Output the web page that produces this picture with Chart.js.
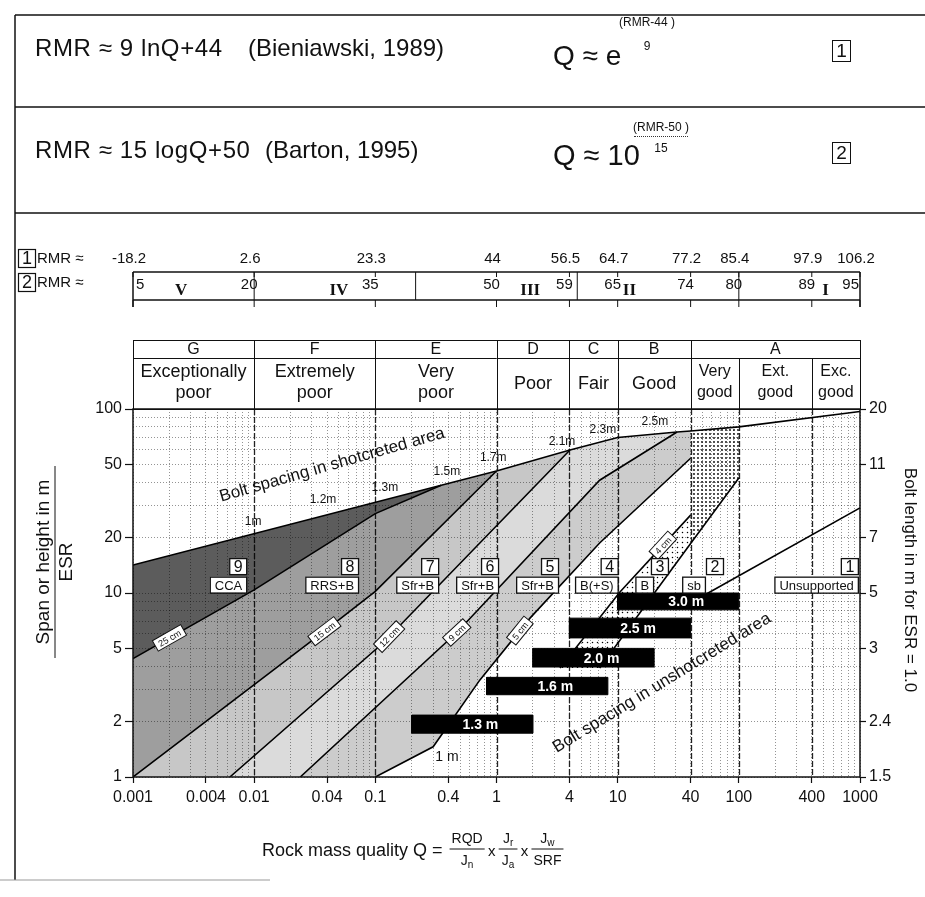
<!DOCTYPE html>
<html>
<head>
<meta charset="utf-8">
<script src="https://cdn.jsdelivr.net/npm/chart.js@4.4.1/dist/chart.umd.min.js"></script>
<style>
  html, body { margin: 0; padding: 0; background: #fff; }
  #wrap { position: relative; width: 925px; height: 897px; overflow: hidden;
          font-family: "Liberation Sans", Arial, sans-serif; color: #111; }
  #chart { position: absolute; left: 0; top: 0; }
  .t { position: absolute; white-space: nowrap; line-height: 1; }
  .small { font-size: 12px; text-align: center; width: 70px; }
  .box { position: absolute; border: 1.5px solid #111; width: 17px; height: 20px;
         font-size: 19px; line-height: 20px; text-align: center; }
</style>
</head>
<body>
<div id="wrap">
  <canvas id="chart" width="925" height="897"></canvas>

  <div class="t" style="left:35px;top:36px;font-size:24px;letter-spacing:0.6px">RMR ≈ 9 lnQ+44</div>
  <div class="t" style="left:248px;top:36px;font-size:24px">(Bieniawski, 1989)</div>
  <div class="t" style="left:553px;top:42px;font-size:28px">Q ≈ e</div>
  <div class="t small" style="left:612px;top:16px">(RMR-44 )</div>
  <div class="t small" style="left:612px;top:40px">9</div>
  <div class="box" style="left:832px;top:40px">1</div>

  <div class="t" style="left:35px;top:138px;font-size:24px;letter-spacing:0.6px">RMR ≈ 15 logQ+50</div>
  <div class="t" style="left:265px;top:138px;font-size:24px">(Barton, 1995)</div>
  <div class="t" style="left:553px;top:141px;font-size:29px">Q ≈ 10</div>
  <div class="t small" style="left:626px;top:121px">(RMR-50 )</div>
  <div class="t" style="left:634px;top:136px;width:54px;border-top:1px dotted #333"></div>
  <div class="t small" style="left:626px;top:142px">15</div>
  <div class="box" style="left:832px;top:142px">2</div>
</div>

<script>
// axis ticks
const qTickValues = [0.001, 0.004, 0.01, 0.04, 0.1, 0.4, 1, 4, 10, 40, 100, 400, 1000];
const qTickLabels = ['0.001', '0.004', '0.01', '0.04', '0.1', '0.4', '1', '4', '10', '40', '100', '400', '1000'];
const spanTickValues = [1, 2, 5, 10, 20, 50, 100];
const spanTickLabels = ['1', '2', '5', '10', '20', '50', '100'];
const boltLengthLabels = ['1.5', '2.4', '3', '5', '7', '11', '20'];

// rock mass classes (Q)
const qClassBounds = [0.001, 0.01, 0.1, 1, 4, 10, 40, 1000];
const qClassLetters = ['G', 'F', 'E', 'D', 'C', 'B', 'A'];
const qNameBounds = [0.001, 0.01, 0.1, 1, 4, 10, 40, 100, 400, 1000];
const qNames = ['Exceptionally\npoor', 'Extremely\npoor', 'Very\npoor', 'Poor', 'Fair', 'Good',
                'Very\ngood', 'Ext.\ngood', 'Exc.\ngood'];

// RMR correlations
const rmrQ = [0.001, 0.01, 0.1, 1, 4, 10, 40, 100, 400, 1000];
const rmrBieniawski = ['-18.2', '2.6', '23.3', '44', '56.5', '64.7', '77.2', '85.4', '97.9', '106.2'];
const rmrBarton = ['5', '20', '35', '50', '59', '65', '74', '80', '89', '95'];
const rmrClassNames = ['V', 'IV', 'III', 'II', 'I'];
const rmrClassBoundQ = [0.01, 0.215, 4.64, 100];   // RMR 20 / 40 / 60 / 80

// support lines, [Q, span/ESR]
const lineShotcrete = [[0.001, 14.2], [0.35, 38.5], [1, 46], [4.04, 59.9], [10, 70], [30.9, 75], [40, 76], [100, 80], [1000, 97]];
const line25cm = [[0.001, 4.4], [0.01, 10.4], [0.1, 27], [0.35, 38.5]];
const line15cm = [[0.001, 1], [0.038, 6.2], [0.1, 10.2], [1, 46]];
const line12cm = [[0.0063, 1], [0.114, 5.3], [4.04, 59.9]];
const line9cm = [[0.024, 1], [0.47, 6.1], [7.1, 41], [30.9, 75]];
const line5cm = [[0.1, 1], [0.3, 1.46], [0.73, 3.37], [1.89, 7.3], [7.1, 18.7], [40, 54]];
const line4cm = [[3.34, 3.91], [10.4, 10.1], [40, 26.5]];
const lineBolts = [[7.1, 3.91], [20.3, 10.1], [40, 18.6], [100, 42.2]];
const lineUnsupported = [[50, 9.6], [1000, 29]];

// bolt spacing in unshotcreted area
const boltSpacingText = ['1.3 m', '1.6 m', '2.0 m', '2.5 m', '3.0 m'];
const boltSpacingQ = [[0.2, 2], [0.83, 8.3], [2, 20], [4, 40], [10, 100]];
const boltSpacingSpan = [[1.73, 2.17], [2.8, 3.48], [3.96, 5.0], [5.7, 7.3], [8.1, 10]];

// bolt spacing in shotcreted area
const topSpacingText = ['1m', '1.2m', '1.3m', '1.5m', '1.7m', '2.1m', '2.3m', '2.5m'];

// support categories
const supportNumbers = ['9', '8', '7', '6', '5', '4', '3', '2', '1'];
const supportNames = ['CCA', 'RRS+B', 'Sfr+B', 'Sfr+B', 'Sfr+B', 'B(+S)', 'B', 'sb', 'Unsupported'];

// annotation placement
const topSpacingAt = [[0.0098, 24.3], [0.037, 32], [0.12, 37.2], [0.39, 45.5], [0.94, 54.2], [3.47, 66.2], [7.56, 76.9], [20.3, 85]];
const supportNumberQ = [0.0086, 0.072, 0.33, 1.03, 3.22, 10, 26, 74, 960];
const supportNameQ = [0.0086, 0.072, 0.33, 1.03, 3.22, 10, 19.6, 52.5, 960];
const rmrClassLabelQ = [0.0025, 0.05, 1.9, 12.5, 520];
const thicknessLabels = [['25 cm', line25cm, 0.002], ['15 cm', line15cm, 0.038], ['12 cm', line12cm, 0.13],
                         ['9 cm', line9cm, 0.47], ['5 cm', line5cm, 1.56], ['4 cm', line4cm, 23.6]];

const FONT = '"Liberation Sans", Arial, sans-serif';
const SERIF = '"Liberation Serif", "Times New Roman", serif';

// grid positions on the log axes
const qGrid = [];
[-3, -2, -1, 0, 1, 2].forEach(e => { for (let m = 1; m <= 9; m++) qGrid.push(+(m * Math.pow(10, e)).toPrecision(2)); });
qGrid.push(1000);
const spanGrid = [];
[0, 1].forEach(e => { for (let m = 1; m <= 9; m++) spanGrid.push(m * Math.pow(10, e)); });
spanGrid.push(100);

const findTick = (list, v) => list.findIndex(t => Math.abs(Math.log10(t / v)) < 1e-6);

function dots(step, r, bg) {
    const c = document.createElement('canvas');
    c.width = c.height = step;
    const g = c.getContext('2d');
    if (bg) { g.fillStyle = bg; g.fillRect(0, 0, step, step); }
    g.fillStyle = '#000';
    g.beginPath(); g.arc(step / 2, step / 2, r, 0, Math.PI * 2); g.fill();
    return g.createPattern(c, 'repeat');
}

const pts = arr => arr.map(([x, y]) => ({x, y}));
const rev = arr => arr.slice().reverse();
function poly(...parts) {
    const out = [];
    parts.forEach(p => p.forEach(([x, y]) => out.push({x, y})));
    out.push({...out[0]});
    return out;
}

const areas = [
    [poly(lineShotcrete.slice(0, 2), rev(line25cm).slice(1)), 'rgba(0,0,0,0.64)'],
    [poly(line25cm, [lineShotcrete[2]], rev(line15cm).slice(1)), 'rgba(0,0,0,0.38)'],
    [poly(line15cm, [lineShotcrete[3]], rev(line12cm).slice(1)), 'rgba(0,0,0,0.22)'],
    [poly(line12cm, lineShotcrete.slice(4, 6), rev(line9cm).slice(1)), 'rgba(0,0,0,0.14)'],
    [poly(line9cm, [lineShotcrete[6]], rev(line5cm)), 'rgba(0,0,0,0.2)'],
    [poly(line4cm, rev(lineBolts).slice(1)), dots(5, 0.75)],
    [poly(lineBolts.slice(2), [lineShotcrete[7], lineShotcrete[6]]), dots(4, 0.9)]
];

const datasets = [];
areas.forEach(([data, color]) => datasets.push({
    data, fill: 'shape', backgroundColor: color, borderColor: 'rgba(0,0,0,0)', borderWidth: 0, order: 5
}));
[lineShotcrete, line25cm, line15cm, line12cm, line9cm, line5cm, line4cm, lineBolts, lineUnsupported].forEach(l => datasets.push({
    data: pts(l), fill: false, borderColor: '#000', borderWidth: 1.6, order: 3
}));
boltSpacingQ.forEach(([q0, q1], i) => {
    const [s0, s1] = boltSpacingSpan[i];
    datasets.push({
        data: poly([[q0, s0], [q1, s0], [q1, s1], [q0, s1]]),
        fill: 'shape', backgroundColor: '#000', borderColor: '#000', borderWidth: 1, order: 1
    });
});

function hline(ctx, x0, x1, y) { ctx.beginPath(); ctx.moveTo(x0, y); ctx.lineTo(x1, y); ctx.stroke(); }
function vline(ctx, x, y0, y1) { ctx.beginPath(); ctx.moveTo(x, y0); ctx.lineTo(x, y1); ctx.stroke(); }
function numBox(ctx, txt, x, y, w, h, size) {
    ctx.fillStyle = '#fff'; ctx.fillRect(x, y, w, h);
    ctx.strokeRect(x + 0.5, y + 0.5, w, h);
    ctx.fillStyle = '#111'; ctx.font = size + 'px ' + FONT;
    ctx.textAlign = 'center'; ctx.textBaseline = 'middle';
    ctx.fillText(txt, x + w / 2 + 0.5, y + h / 2 + 1.5);
}
function subText(ctx, main, sub, cx, cy) {
    ctx.font = '14px ' + FONT; const w1 = ctx.measureText(main).width;
    ctx.font = '10px ' + FONT; const w2 = sub ? ctx.measureText(sub).width : 0;
    const x0 = cx - (w1 + w2) / 2;
    ctx.textAlign = 'left';
    ctx.font = '14px ' + FONT; ctx.fillText(main, x0, cy);
    if (sub) { ctx.font = '10px ' + FONT; ctx.fillText(sub, x0 + w1, cy + 4); }
    return w1 + w2;
}

const decor = {
    id: 'decor',
    beforeDatasetsDraw(chart) {
        const {ctx, chartArea: a, scales: {x}} = chart;
        ctx.save();
        ctx.strokeStyle = '#222'; ctx.lineWidth = 1.3; ctx.setLineDash([6, 2]);
        qNameBounds.slice(1, -1).forEach(q => vline(ctx, Math.round(x.getPixelForValue(q)) + 0.5, a.top, a.bottom));
        ctx.restore();
    },
    afterDraw(chart) {
        const {ctx, chartArea: a, scales: {x, y}} = chart;
        const X = q => x.getPixelForValue(q);
        const Y = v => y.getPixelForValue(v);
        ctx.save();
        ctx.strokeStyle = '#111'; ctx.fillStyle = '#111';
        ctx.textBaseline = 'middle';

        // page frame
        ctx.lineWidth = 1.5;
        hline(ctx, 15, 925, 15); hline(ctx, 15, 925, 107); hline(ctx, 15, 925, 213);
        vline(ctx, 15, 15, 880);
        ctx.strokeStyle = '#999'; ctx.lineWidth = 1; hline(ctx, 0, 270, 880);
        ctx.strokeStyle = '#111';

        // RMR scale 1
        ctx.lineWidth = 1.2;
        numBox(ctx, '1', 18, 249, 17, 18, 18);
        ctx.font = '15px ' + FONT; ctx.textAlign = 'left';
        ctx.fillText('RMR ≈', 37, 259);
        ctx.font = '15px ' + FONT; ctx.textAlign = 'center';
        rmrQ.forEach((q, i) => ctx.fillText(rmrBieniawski[i], X(q) - 4, 259));

        // RMR scale 2
        numBox(ctx, '2', 18, 273, 17, 18, 18);
        ctx.font = '15px ' + FONT; ctx.textAlign = 'left';
        ctx.fillText('RMR ≈', 37, 283);
        const x0 = X(0.001), x1 = X(1000);
        ctx.lineWidth = 1.5;
        hline(ctx, x0, x1, 272); hline(ctx, x0, x1, 300);
        vline(ctx, x0, 272, 307); vline(ctx, x1, 272, 307);
        ctx.lineWidth = 1;
        rmrQ.forEach(q => { vline(ctx, X(q), 300, 307); vline(ctx, X(q), 272, 277); });
        rmrClassBoundQ.forEach(q => vline(ctx, X(q), 272, 300));
        ctx.font = '15px ' + FONT;
        rmrQ.forEach((q, i) => {
            if (i === 0) { ctx.textAlign = 'left'; ctx.fillText(rmrBarton[i], X(q) + 3, 285); }
            else if (i === rmrQ.length - 1) { ctx.textAlign = 'right'; ctx.fillText(rmrBarton[i], X(q) - 1, 285); }
            else { ctx.textAlign = 'center'; ctx.fillText(rmrBarton[i], X(q) - 5, 285); }
        });
        ctx.font = 'bold 17px ' + SERIF; ctx.textAlign = 'center';
        rmrClassNames.forEach((n, i) => ctx.fillText(n, X(rmrClassLabelQ[i]), 291));

        // Q class table
        ctx.lineWidth = 1;
        ctx.strokeRect(x0 + 0.5, 340.5, x1 - x0, 69);
        hline(ctx, x0, x1, 358.5);
        qClassBounds.slice(1, -1).forEach(q => vline(ctx, Math.round(X(q)) + 0.5, 340, 409));
        qNameBounds.filter(q => q > 40 && q < 1000).forEach(q => vline(ctx, Math.round(X(q)) + 0.5, 358, 409));
        ctx.font = '16px ' + FONT; ctx.textAlign = 'center';
        qClassLetters.forEach((l, i) => ctx.fillText(l, (X(qClassBounds[i]) + X(qClassBounds[i + 1])) / 2, 350));
        qNames.forEach((n, i) => {
            const cx = (X(qNameBounds[i]) + X(qNameBounds[i + 1])) / 2;
            const parts = n.split('\n');
            ctx.font = (i >= 6 ? 16 : 18) + 'px ' + FONT;
            if (parts.length === 1) ctx.fillText(parts[0], cx, 384);
            else { ctx.fillText(parts[0], cx, 372); ctx.fillText(parts[1], cx, 393); }
        });

        // plot frame
        ctx.lineWidth = 1.5;
        ctx.strokeRect(a.left, a.top, a.right - a.left, a.bottom - a.top);

        // bolt spacing along the shotcrete line
        ctx.font = '12px ' + FONT; ctx.textAlign = 'center';
        topSpacingText.forEach((t, i) => ctx.fillText(t, X(topSpacingAt[i][0]), Y(topSpacingAt[i][1])));

        // shotcrete thickness labels on the lines
        thicknessLabels.forEach(([t, line, q]) => {
            const p = line.map(([lq, lv]) => [X(lq), Y(lv)]);
            const px = X(q);
            let k = 0;
            while (k < p.length - 2 && p[k + 1][0] < px) k++;
            const [ax, ay] = p[k], [bx, by] = p[k + 1];
            const py = ay + (px - ax) / (bx - ax) * (by - ay);
            ctx.save();
            ctx.translate(px, py); ctx.rotate(Math.atan2(by - ay, bx - ax));
            ctx.font = '9px ' + FONT;
            const w = ctx.measureText(t).width + 8;
            ctx.fillStyle = '#fff'; ctx.fillRect(-w / 2, -6, w, 12);
            ctx.lineWidth = 1; ctx.strokeRect(-w / 2, -6, w, 12);
            ctx.fillStyle = '#111'; ctx.textAlign = 'center';
            ctx.fillText(t, 0, 1);
            ctx.restore();
        });

        // support category labels
        ctx.lineWidth = 1.3;
        supportNumbers.forEach((n, i) => {
            const xr = X(supportNumberQ[i]);
            numBox(ctx, n, xr - 17, Y(14) - 8, 17, 16, 16);
            ctx.font = '13px ' + FONT;
            const w = ctx.measureText(supportNames[i]).width + 9;
            const xt = X(supportNameQ[i]);
            numBox(ctx, supportNames[i], xt - w, Y(11.1) - 8, w, 16, 13);
        });

        // bolt spacing bars
        ctx.fillStyle = '#fff'; ctx.font = 'bold 14px ' + FONT; ctx.textAlign = 'center';
        boltSpacingText.forEach((t, i) => {
            const [q0, q1] = boltSpacingQ[i], [s0, s1] = boltSpacingSpan[i];
            ctx.fillText(t, X(Math.sqrt(q0 * q1)) + 8, Y(Math.sqrt(s0 * s1)) + 1);
        });

        // rotated notes
        ctx.fillStyle = '#111'; ctx.font = '17px ' + FONT;
        ctx.save(); ctx.translate(X(0.044), Y(49.6)); ctx.rotate(-16 * Math.PI / 180);
        ctx.fillText('Bolt spacing in shotcreted area', 0, 0); ctx.restore();
        ctx.save(); ctx.translate(X(23.2), Y(3.24)); ctx.rotate(-31.5 * Math.PI / 180);
        ctx.fillText('Bolt spacing in unshotcreted area', 0, 0); ctx.restore();
        ctx.font = '14px ' + FONT;
        ctx.fillText('1 m', X(0.39), Y(1.28));

        // axis titles
        ctx.save(); ctx.translate(44, 562); ctx.rotate(-Math.PI / 2);
        ctx.font = '19px ' + FONT; ctx.fillText('Span or height in m', 0, 0);
        ctx.lineWidth = 1; hline(ctx, -96, 96, 11);
        ctx.fillText('ESR', 0, 23);
        ctx.restore();
        ctx.save(); ctx.translate(910, 580); ctx.rotate(Math.PI / 2);
        ctx.font = '17px ' + FONT; ctx.fillText('Bolt length in m for ESR = 1.0', 0, 0);
        ctx.restore();

        ctx.font = '18px ' + FONT; ctx.textAlign = 'left';
        const lead = 'Rock mass quality Q = ';
        ctx.fillText(lead, 262, 851);
        let cx = 262 + ctx.measureText(lead).width + 2;
        const fracs = [[['RQD', ''], ['J', 'n']], [['J', 'r'], ['J', 'a']], [['J', 'w'], ['SRF', '']]];
        ctx.lineWidth = 1;
        fracs.forEach(([num, den], i) => {
            ctx.font = '14px ' + FONT;
            const w = Math.max(ctx.measureText(num[0] + num[1]).width, ctx.measureText(den[0] + den[1]).width) + 4;
            hline(ctx, cx, cx + w, 849);
            subText(ctx, num[0], num[1], cx + w / 2, 839);
            subText(ctx, den[0], den[1], cx + w / 2, 861);
            cx += w;
            if (i < fracs.length - 1) {
                ctx.font = '15px ' + FONT; ctx.textAlign = 'center';
                ctx.fillText('x', cx + 7, 852);
                cx += 14;
            }
        });
        ctx.restore();
    }
};

new Chart(document.getElementById('chart'), {
    type: 'line',
    data: { datasets },
    options: {
        responsive: false,
        animation: false,
        devicePixelRatio: 1,
        layout: { padding: { top: 409, left: 0, right: 0, bottom: 0 } },
        elements: { point: { radius: 0 }, line: { tension: 0 } },
        plugins: { legend: { display: false }, tooltip: { enabled: false } },
        scales: {
            x: {
                type: 'logarithmic', min: 0.001, max: 1000,
                afterBuildTicks: s => { s.ticks = qGrid.map(v => ({value: v})); },
                afterFit: s => { s.height = 120; },
                ticks: {
                    autoSkip: false, maxRotation: 0, padding: 5, color: '#111',
                    font: { family: FONT, size: 16 },
                    callback: v => { const i = findTick(qTickValues, v); return i < 0 ? '' : qTickLabels[i]; }
                },
                grid: {
                    color: 'rgba(0,0,0,0.42)', lineWidth: 1, tickLength: 6, tickWidth: 1.2,
                    tickColor: c => (c.tick && findTick(qTickValues, c.tick.value) >= 0) ? '#111' : 'rgba(0,0,0,0)'
                },
                border: { display: false, dash: [1, 2] }
            },
            y: {
                type: 'logarithmic', position: 'left', min: 1, max: 100,
                afterBuildTicks: s => { s.ticks = spanGrid.map(v => ({value: v})); },
                afterFit: s => { s.width = 133; },
                ticks: {
                    autoSkip: false, padding: 3, color: '#111',
                    font: { family: FONT, size: 16 },
                    callback: v => { const i = findTick(spanTickValues, v); return i < 0 ? '' : spanTickLabels[i]; }
                },
                grid: {
                    color: 'rgba(0,0,0,0.42)', lineWidth: 1, tickLength: 8, tickWidth: 1.2,
                    tickColor: c => (c.tick && findTick(spanTickValues, c.tick.value) >= 0) ? '#111' : 'rgba(0,0,0,0)'
                },
                border: { display: false, dash: [1, 2] }
            },
            y2: {
                type: 'logarithmic', position: 'right', min: 1, max: 100,
                afterBuildTicks: s => { s.ticks = spanGrid.map(v => ({value: v})); },
                afterFit: s => { s.width = 65; },
                ticks: {
                    autoSkip: false, padding: 3, color: '#111',
                    font: { family: FONT, size: 16 },
                    callback: v => { const i = findTick(spanTickValues, v); return i < 0 ? '' : boltLengthLabels[i]; }
                },
                grid: {
                    drawOnChartArea: false, tickLength: 6, tickWidth: 1.2,
                    tickColor: c => (c.tick && findTick(spanTickValues, c.tick.value) >= 0) ? '#111' : 'rgba(0,0,0,0)'
                },
                border: { display: false }
            }
        }
    },
    plugins: [decor]
});
</script>
</body>
</html>
